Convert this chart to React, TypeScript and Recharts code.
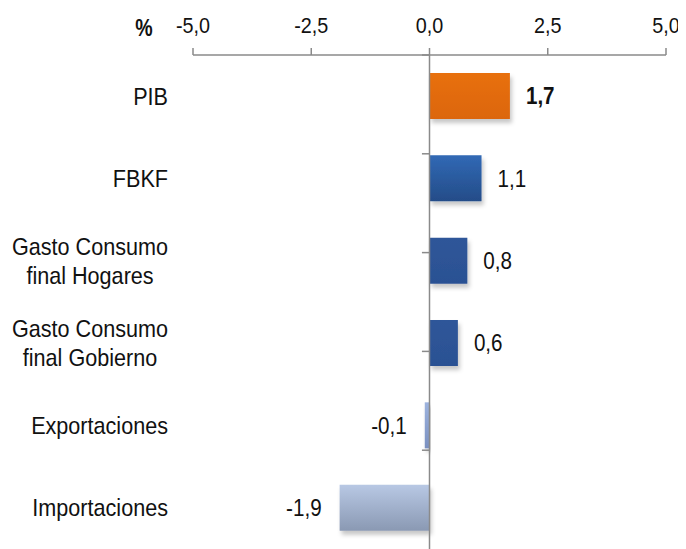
import React from 'react';
import { BarChart, Bar, XAxis, YAxis, Cell, LabelList, ReferenceLine } from 'recharts';

const categories = ['PIB', 'FBKF', 'Gasto Consumo\nfinal Hogares', 'Gasto Consumo\nfinal Gobierno', 'Exportaciones', 'Importaciones'];
const values = [1.7, 1.1, 0.8, 0.6, -0.1, -1.9];
const xTicks = [-5, -2.5, 0, 2.5, 5];
const boundaries = [1, 2, 3, 4, 5];
const gradients = [
  ['#E8700C', '#DC660A'],
  ['#3169B5', '#244C88'],
  ['#2F5699', '#2B5193'],
  ['#2F5699', '#2B5193'],
  ['#9DB3DE', '#7A90C0'],
  ['#B8C8E4', '#8A99B3'],
];

const data = categories.map((c, i) => ({ name: c, value: values[i] }));

const FONT = "'Liberation Sans', Arial, sans-serif";
const fmt = (v: number) => v.toFixed(1).replace('.', ',');

const CategoryTick = (props: any) => {
  const { x, y, payload } = props;
  const lines = String(payload.value).split('\n');
  if (lines.length === 1) {
    return (
      <g transform={`translate(${x},${y}) scale(0.9,1)`}>
        <text x={0} y={0} dy="0.35em" textAnchor="end" fontSize={24} fill="#111" fontFamily={FONT}>
          {lines[0]}
        </text>
      </g>
    );
  }
  const lh = 29;
  return (
    <g transform={`translate(${x - 78},${y}) scale(0.9,1)`}>
      <text x={0} y={0} textAnchor="middle" fontSize={24} fill="#111" fontFamily={FONT}>
        {lines.map((l, i) => (
          <tspan key={i} x={0} y={(i - (lines.length - 1) / 2) * lh} dy="0.35em">
            {l}
          </tspan>
        ))}
      </text>
    </g>
  );
};

const NumTick = (props: any) => {
  const { x, y, payload } = props;
  return (
    <g transform={`translate(${x},${y}) scale(0.9,1)`}>
      <text x={0} y={0} textAnchor="middle" fontSize={22} fill="#111" fontFamily={FONT}>
        {fmt(payload.value)}
      </text>
    </g>
  );
};

const ValueLabel = (props: any) => {
  const { x, y, width, height, value, index } = props;
  const left = Math.min(x, x + width);
  const right = Math.max(x, x + width);
  const cy = y + height / 2;
  const pos = value >= 0;
  return (
    <g transform={`translate(${pos ? right + 16 : left - 18},${cy}) scale(0.86,1)`}>
      <text
        x={0}
        y={0}
        dy="0.35em"
        textAnchor={pos ? 'start' : 'end'}
        fontSize={24}
        fontWeight={index === 0 ? 'bold' : 'normal'}
        fill="#111"
        fontFamily={FONT}
      >
        {fmt(value)}
      </text>
    </g>
  );
};

const PercentLabel = (props: any) => {
  const { viewBox } = props;
  return (
    <g transform={`translate(${viewBox.x - 49},28) scale(0.85,1)`}>
      <text x={0} y={0} textAnchor="middle" fontSize={23} fontWeight="bold" fill="#111" fontFamily={FONT}>
        %
      </text>
    </g>
  );
};

export default function App() {
  return (
    <div style={{ fontFamily: FONT }}>
      <BarChart
        width={678}
        height={541}
        data={data}
        layout="vertical"
        margin={{ top: 0, right: 20, bottom: 0, left: 0 }}
      >
        <defs>
          {gradients.map((g, i) => (
            <linearGradient key={i} id={`grad${i}`} x1="0" y1="0" x2="0" y2="1">
              <stop offset="0%" stopColor={g[0]} />
              <stop offset="100%" stopColor={g[1]} />
            </linearGradient>
          ))}
          <filter id="shadow" x="-20%" y="-20%" width="140%" height="150%">
            <feDropShadow dx="2" dy="4" stdDeviation="2" floodColor="#000" floodOpacity="0.22" />
          </filter>
        </defs>
        <XAxis
          type="number"
          orientation="top"
          domain={[-5, 5]}
          ticks={xTicks}
          height={47}
          tickSize={7}
          tickMargin={15}
          axisLine={{ stroke: '#8a8a8a', strokeWidth: 1.5 }}
          tickLine={{ stroke: '#8a8a8a', strokeWidth: 1.5 }}
          tick={<NumTick />}
          label={<PercentLabel />}
        />
        <YAxis
          type="category"
          dataKey="name"
          width={185}
          tickSize={0}
          tickMargin={25}
          axisLine={false}
          tickLine={false}
          tick={<CategoryTick />}
          interval={0}
        />
        <YAxis yAxisId="grid" type="number" domain={[0, 6]} reversed hide />
        <ReferenceLine x={0} stroke="#8a8a8a" strokeWidth={1.5} />
        {boundaries.map((b) => (
          <ReferenceLine
            key={b}
            yAxisId="grid"
            segment={[{ x: -0.16, y: b }, { x: 0, y: b }]}
            stroke="#8a8a8a"
            strokeWidth={1.5}
          />
        ))}
        <Bar dataKey="value" barSize={46} isAnimationActive={false}>
          {data.map((d, i) => (
            <Cell key={i} fill={`url(#grad${i})`} filter="url(#shadow)" />
          ))}
          <LabelList dataKey="value" content={<ValueLabel />} />
        </Bar>
      </BarChart>
    </div>
  );
}
